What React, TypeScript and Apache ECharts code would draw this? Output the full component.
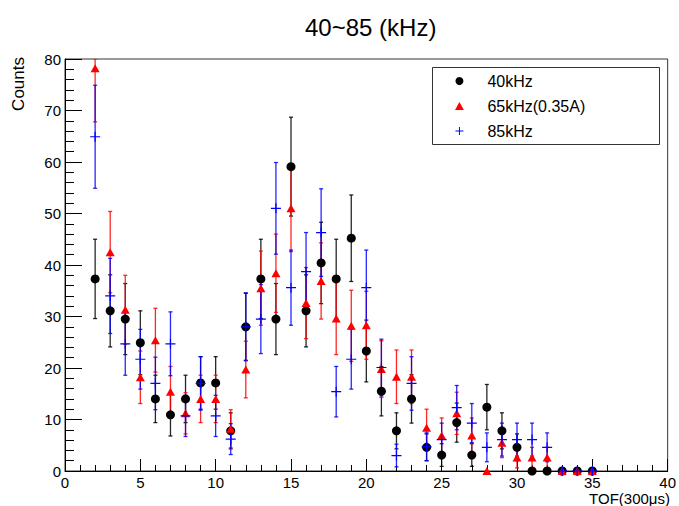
import React, { useEffect, useRef } from "react";
import * as echarts from "echarts";

const FONT = "Liberation Sans, Arial, sans-serif";

const titleText = "40~85 (kHz)";
const xName = "TOF(300\u03bcs)";
const yName = "Counts";

const xBins = [2, 3, 4, 5, 6, 7, 8, 9, 10, 11, 12, 13, 14, 15, 16, 17, 18, 19, 20, 21, 22, 23, 24, 25, 26, 27, 28, 29, 30, 31, 32, 33, 34, 35];

const names = ["40kHz", "65kHz(0.35A)", "85kHz"];

const vals40 = [37.3, 31.1, 29.5, 24.9, 14.0, 10.9, 14.0, 17.1, 17.1, 7.8, 28.0, 37.3, 29.5, 59.1, 31.1, 40.4, 37.3, 45.2, 23.3, 15.5, 7.8, 14.0, 4.6, 3.1, 9.4, 3.1, 12.4, 7.8, 4.6, 0, 0, 0, 0, 0];
const errs40 = [7.7, 7.0, 6.9, 6.2, 4.6, 4.1, 4.6, 5.1, 5.1, 3.5, 6.5, 7.7, 6.9, 9.6, 7.0, 7.9, 7.7, 8.4, 6.0, 4.8, 3.5, 4.7, 2.6, 2.2, 3.8, 2.2, 4.4, 3.5, 2.6, 0, 0, 0, 0, 0];

const vals65 = [78.2, 42.5, 31.3, 18.2, 25.4, 15.4, 11.2, 14.0, 14.0, 8.2, 19.7, 35.5, 38.4, 51.0, 32.6, 36.9, 29.6, 28.2, 28.3, 19.8, 18.3, 18.3, 8.4, 6.9, 11.2, 6.9, 0, 5.5, 2.6, 2.6, 2.6, 0, 0, 0];
const errs65 = [10.4, 7.9, 6.7, 5.1, 6.2, 4.9, 4.0, 4.6, 4.6, 3.7, 5.5, 7.2, 7.6, 8.4, 6.9, 7.4, 7.0, 6.9, 6.6, 5.5, 5.2, 5.2, 3.6, 3.4, 4.1, 3.4, 0, 2.9, 2.0, 2.0, 2.0, 0, 0, 0];

const vals85 = [64.9, 34.0, 24.7, 21.7, 17.0, 24.7, 10.7, 17.0, 10.7, 6.2, 28.0, 29.5, 51.0, 35.6, 38.7, 46.3, 15.4, 21.7, 35.6, 20.1, 3.0, 17.0, 4.7, 6.1, 12.3, 9.3, 4.6, 6.1, 6.1, 6.1, 4.6, 0, 0, 0];
const errs85 = [10.0, 7.3, 6.1, 5.8, 5.1, 6.2, 4.0, 5.2, 4.0, 3.0, 6.6, 6.7, 8.9, 7.3, 7.6, 8.5, 4.9, 5.8, 7.3, 5.5, 2.2, 5.2, 2.7, 3.2, 4.3, 3.8, 2.8, 3.2, 3.2, 3.2, 2.8, 0, 0, 0];

const PLUS = "path://M4.4,0 H5.6 V4.4 H10 V5.6 H5.6 V10 H4.4 V5.6 H0 V4.4 H4.4 Z";
const TRI = "path://M5,0 L10,9 L0,9 Z";

function errSeries(name: string, vals: number[], errs: number[], color: string) {
  return {
    type: "custom",
    name: name + " err",
    silent: true,
    clip: true,
    data: xBins.map((x, i) => [x, vals[i], errs[i]]),
    encode: { x: 0, y: 1 },
    renderItem: (params: any, api: any) => {
      const x = api.value(0);
      const v = api.value(1);
      const e = api.value(2);
      if (!e) return { type: "group", children: [] };
      const cs = params.coordSys;
      const top = api.coord([x, v + e]);
      const bot = api.coord([x, v - e]);
      const yTop = Math.max(top[1], cs.y);
      const yBot = Math.min(bot[1], cs.y + cs.height);
      const cap = 2;
      const style = { stroke: color, lineWidth: 1.3, opacity: 0.85 };
      return {
        type: "group",
        children: [
          { type: "line", shape: { x1: top[0], y1: yTop, x2: top[0], y2: yBot }, style },
          { type: "line", shape: { x1: top[0] - cap, y1: yTop, x2: top[0] + cap, y2: yTop }, style },
          { type: "line", shape: { x1: top[0] - cap, y1: yBot, x2: top[0] + cap, y2: yBot }, style },
        ],
      };
    },
  };
}

function markSeries(name: string, vals: number[], color: string, symbol: string, size: any) {
  return {
    type: "scatter",
    name,
    clip: false,
    symbol,
    symbolSize: size,
    itemStyle: { color, opacity: 1 },
    data: xBins.map((x, i) => [x, vals[i]]),
  };
}

export default function App() {
  const ref = useRef<HTMLDivElement>(null);
  useEffect(() => {
    if (!ref.current) return;
    const chart = echarts.init(ref.current, null, { renderer: "svg" });
    const option: any = {
      animation: false,
      backgroundColor: "#fff",
      title: {
        text: titleText,
        left: 305,
        top: 15,
        padding: 0,
        textStyle: { fontSize: 24, fontWeight: "normal", fontFamily: FONT, color: "#000" },
      },
      legend: {
        orient: "vertical",
        left: 455,
        top: 73,
        padding: 0,
        z: 20,
        itemWidth: 46,
        itemHeight: 8,
        itemGap: 9,
        symbolKeepAspect: true,
        selectedMode: false,
        textStyle: { fontSize: 16, fontFamily: FONT, color: "#000" },
        data: [
          { name: names[0], icon: "circle" },
          { name: names[1], icon: TRI },
          { name: names[2], icon: PLUS },
        ],
      },
      grid: {
        left: 65,
        top: 59,
        width: 604,
        height: 412,
        show: true,
        borderColor: "#333",
        borderWidth: 1,
        backgroundColor: "transparent",
      },
      xAxis: {
        type: "value",
        min: 0,
        max: 40,
        interval: 5,
        axisLine: { show: true, lineStyle: { color: "#000", width: 1 } },
        axisTick: { show: true, inside: true, length: 12, lineStyle: { color: "#000" } },
        minorTick: { show: true, splitNumber: 5, length: 6, lineStyle: { color: "#000" } },
        splitLine: { show: false },
        minorSplitLine: { show: false },
        axisLabel: { fontSize: 15, fontFamily: FONT, color: "#000", margin: 4 },
      },
      yAxis: {
        type: "value",
        min: 0,
        max: 80,
        interval: 10,
        axisLine: { show: true, lineStyle: { color: "#000", width: 1 } },
        axisTick: { show: true, inside: true, length: 17, lineStyle: { color: "#000" } },
        minorTick: { show: true, splitNumber: 5, length: 9, lineStyle: { color: "#000" } },
        splitLine: { show: false },
        minorSplitLine: { show: false },
        axisLabel: { fontSize: 15, fontFamily: FONT, color: "#000", margin: 4 },
      },
      graphic: [
        {
          type: "rect",
          shape: { x: 432.5, y: 67.5, width: 227, height: 77 },
          style: { fill: "#fff", stroke: "#333", lineWidth: 1 },
          z: 3,
        },
        {
          type: "text",
          x: 18,
          y: 57,
          rotation: Math.PI / 2,
          style: { text: yName, fontSize: 17, fontFamily: FONT, fill: "#000", align: "right", verticalAlign: "middle" },
        },
        {
          type: "text",
          x: 670,
          y: 491,
          style: { text: xName, fontSize: 15, fontFamily: FONT, fill: "#000", align: "right", verticalAlign: "top" },
        },
      ],
      series: [
        errSeries(names[0], vals40, errs40, "#000000"),
        markSeries(names[0], vals40, "#000000", "circle", 9),
        errSeries(names[1], vals65, errs65, "#ff0000"),
        markSeries(names[1], vals65, "#ff0000", "triangle", [9, 8]),
        errSeries(names[2], vals85, errs85, "#0000ff"),
        markSeries(names[2], vals85, "#0000ff", PLUS, 10),
      ],
    };
    chart.setOption(option);
    return () => chart.dispose();
  }, []);
  return (
    <div
      ref={ref}
      style={{ position: "absolute", left: 0, top: 0, width: 679, height: 506 }}
    />
  );
}
